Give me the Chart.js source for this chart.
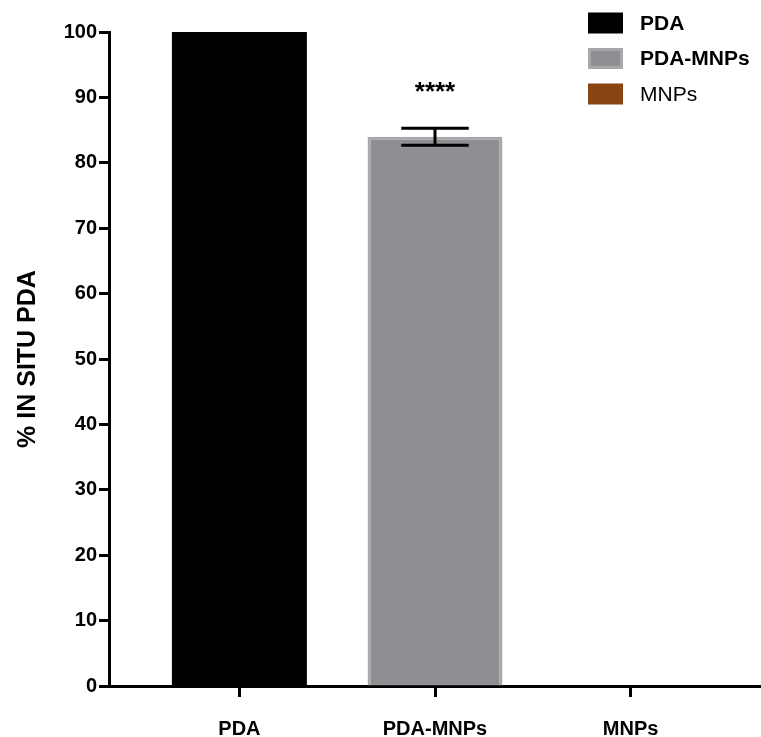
<!DOCTYPE html>
<html>
<head>
<meta charset="utf-8">
<script src="https://cdn.jsdelivr.net/npm/chart.js@4.4.1/dist/chart.umd.min.js"></script>
<style>
    html, body { margin: 0; padding: 0; background: #fff; }
    #wrap { position: relative; width: 761px; height: 737px; }
</style>
</head>
<body>
<div id="wrap"><canvas id="insituChart"></canvas></div>
<script>
const categories = ['PDA', 'PDA-MNPs', 'MNPs'];
const meanValues = [100, 84, 0];
const errorValues = [0, 1.3, 0];
const sigLabels = ['', '****', ''];

const barFill = ['#000000', '#8f8e93', '#8b4513'];
const barEdge = ['#000000', '#a8a8ab', '#8b4513'];
const legendWeights = ['bold', 'bold', 'normal'];
const FONT = "'Liberation Sans', Arial, sans-serif";

// error bars + significance stars on top of the bars
const errorBarPlugin = {
    id: 'errorBars',
    afterDatasetsDraw(chart) {
        const ctx = chart.ctx;
        const y = chart.scales.y;
        const meta = chart.getDatasetMeta(0);
        ctx.save();
        meta.data.forEach((bar, i) => {
            const err = errorValues[i];
            const cx = bar.x;
            if (err > 0) {
                const half = bar.width / 4;
                const top = y.getPixelForValue(meanValues[i] + err);
                const bot = y.getPixelForValue(meanValues[i] - err);
                ctx.strokeStyle = '#000';
                ctx.lineWidth = 3;
                ctx.beginPath();
                ctx.moveTo(cx, top); ctx.lineTo(cx, bot);
                ctx.moveTo(cx - half, top); ctx.lineTo(cx + half, top);
                ctx.moveTo(cx - half, bot); ctx.lineTo(cx + half, bot);
                ctx.stroke();
            }
            if (sigLabels[i]) {
                const top = y.getPixelForValue(meanValues[i] + err);
                ctx.fillStyle = '#000';
                ctx.font = 'bold 26px ' + FONT;
                ctx.textAlign = 'center';
                ctx.textBaseline = 'alphabetic';
                ctx.fillText(sigLabels[i], cx, top - 28);
            }
        });
        ctx.restore();
    }
};

// legend in the top right corner, one entry per bar
const cornerLegend = {
    id: 'cornerLegend',
    afterDraw(chart) {
        const ctx = chart.ctx;
        const boxX = 588, boxW = 35, boxH = 21, textX = 640;
        ctx.save();
        categories.forEach((name, i) => {
            const cy = 23 + i * 35.5;
            ctx.fillStyle = barEdge[i];
            ctx.fillRect(boxX, cy - boxH / 2, boxW, boxH);
            ctx.fillStyle = barFill[i];
            ctx.fillRect(boxX + 3, cy - boxH / 2 + 3, boxW - 6, boxH - 6);
            ctx.fillStyle = '#000';
            ctx.font = legendWeights[i] + ' 21px ' + FONT;
            ctx.textAlign = 'left';
            ctx.textBaseline = 'middle';
            ctx.fillText(name, textX, cy + 1);
        });
        ctx.restore();
    }
};

const ctx = document.getElementById('insituChart').getContext('2d');
new Chart(ctx, {
    type: 'bar',
    data: {
        datasets: [{
            label: '% IN SITU PDA',
            data: meanValues.map((v, i) => ({ x: i, y: v })),
            backgroundColor: barFill,
            borderColor: barEdge,
            borderWidth: [0, 3, 0],
            borderSkipped: 'start',
            categoryPercentage: 1,
            barPercentage: 0.69
        }]
    },
    options: {
        responsive: true,
        maintainAspectRatio: false,
        animation: false,
        layout: { padding: { top: 32, right: 0, bottom: 0, left: 0 } },
        plugins: { legend: { display: false }, tooltip: { enabled: false } },
        scales: {
            x: {
                type: 'linear',
                offset: false,
                min: -2 / 3,
                max: 2 + 2 / 3,
                afterBuildTicks: scale => {
                    scale.ticks = categories.map((_, i) => ({ value: i }));
                },
                afterFit: scale => { scale.height = 51; },
                grid: { offset: false, drawOnChartArea: false, tickLength: 11, tickWidth: 3, tickColor: '#000' },
                border: { color: '#000', width: 3 },
                ticks: {
                    color: '#000',
                    padding: 20,
                    maxRotation: 0,
                    font: { family: FONT, size: 20, weight: 'bold' },
                    callback: v => categories[v] ?? ''
                }
            },
            y: {
                min: 0,
                max: 100,
                afterFit: scale => { scale.width = 109; },
                grid: { drawOnChartArea: false, tickLength: 10, tickWidth: 3, tickColor: '#000' },
                border: { color: '#000', width: 3 },
                ticks: {
                    stepSize: 10,
                    color: '#000',
                    padding: 2,
                    font: { family: FONT, size: 20, weight: 'bold' }
                },
                title: {
                    display: true,
                    text: '% IN SITU PDA',
                    color: '#000',
                    padding: { top: 13, bottom: 0 },
                    font: { family: FONT, size: 25, weight: 'bold' }
                }
            }
        }
    },
    plugins: [errorBarPlugin, cornerLegend]
});
</script>
</body>
</html>
